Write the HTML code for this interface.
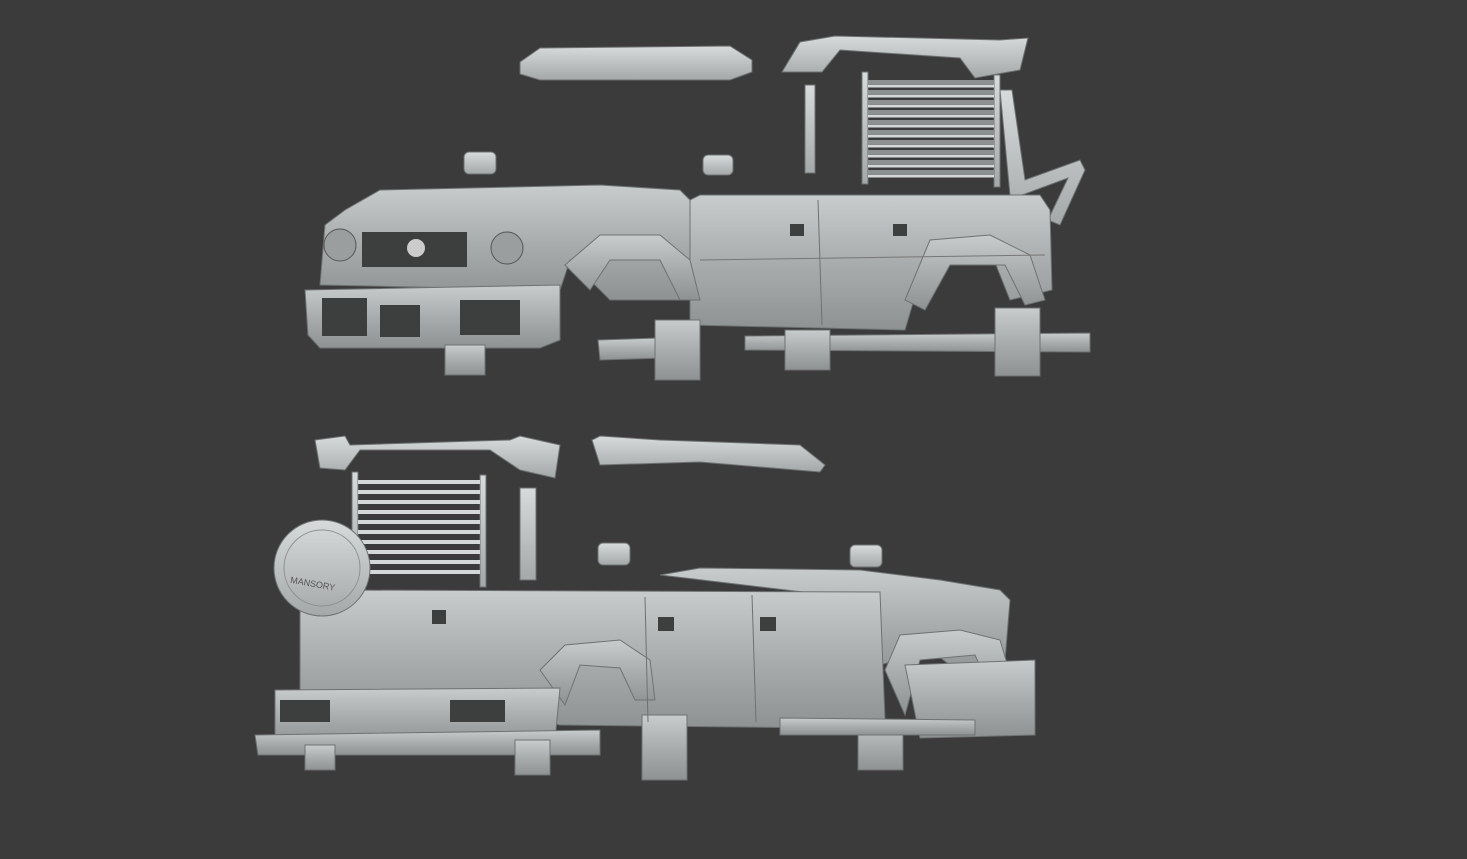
<!DOCTYPE html>
<html><head><meta charset="utf-8"><style>
html,body{margin:0;padding:0;background:#3b3b3b;}
svg{display:block}
</style></head><body>
<svg width="1467" height="859" viewBox="0 0 1467 859" xmlns="http://www.w3.org/2000/svg">
<defs>
<linearGradient id="b" x1="0" y1="0" x2="0" y2="1">
<stop offset="0" stop-color="#c9cccc"/><stop offset="0.5" stop-color="#a9adad"/><stop offset="1" stop-color="#8e9292"/>
</linearGradient>
<linearGradient id="l" x1="0" y1="0" x2="0" y2="1">
<stop offset="0" stop-color="#d8dbdb"/><stop offset="1" stop-color="#a4a8a8"/>
</linearGradient>
</defs>
<rect width="1467" height="859" fill="#3b3b3b"/>

<!-- TOP CAR -->
<g fill="url(#l)" stroke="#6e7272" stroke-width="1">
<!-- light bar -->
<path d="M520 62 L540 48 L730 46 L752 60 L752 72 L730 80 L540 80 L520 74Z"/>
<!-- spoiler -->
<path d="M782 72 L800 42 L835 36 L1000 40 L1028 38 L1020 70 L975 78 L960 58 L840 50 L822 72Z"/>
<!-- ladder frame -->
<rect x="862" y="72" width="6" height="112"/>
<rect x="994" y="75" width="6" height="112"/>
<rect x="805" y="85" width="10" height="88"/>
<!-- tube -->
<path d="M1000 90 L1012 90 L1025 180 L1080 160 L1085 170 L1060 225 L1048 220 L1068 178 L1022 195 L1010 195Z"/>
<!-- mirrors -->
<rect x="464" y="152" width="32" height="22" rx="5"/>
<rect x="703" y="155" width="30" height="20" rx="5"/>
</g>
<g stroke="#8c9090" stroke-width="4">
<line x1="868" y1="82" x2="994" y2="82"/><line x1="868" y1="92" x2="994" y2="92"/><line x1="868" y1="102" x2="994" y2="102"/><line x1="868" y1="112" x2="994" y2="112"/><line x1="868" y1="122" x2="994" y2="122"/><line x1="868" y1="132" x2="994" y2="132"/><line x1="868" y1="142" x2="994" y2="142"/><line x1="868" y1="152" x2="994" y2="152"/><line x1="868" y1="162" x2="994" y2="162"/><line x1="868" y1="172" x2="994" y2="172"/>
</g>
<g stroke="#d5d8d8" stroke-width="3">
<line x1="868" y1="86" x2="994" y2="86"/><line x1="868" y1="96" x2="994" y2="96"/><line x1="868" y1="106" x2="994" y2="106"/><line x1="868" y1="116" x2="994" y2="116"/><line x1="868" y1="126" x2="994" y2="126"/><line x1="868" y1="136" x2="994" y2="136"/><line x1="868" y1="146" x2="994" y2="146"/><line x1="868" y1="156" x2="994" y2="156"/><line x1="868" y1="166" x2="994" y2="166"/><line x1="868" y1="176" x2="994" y2="176"/>
</g>
<g fill="url(#b)" stroke="#6e7272" stroke-width="1">
<!-- hood/front -->
<path d="M325 225 L345 210 L380 190 L600 185 L680 190 L690 200 L690 300 L610 300 L570 260 L560 290 L320 285Z"/>
<!-- side body -->
<path d="M690 200 L700 195 L1040 195 L1050 210 L1052 290 L1010 300 L990 250 L930 245 L905 330 L690 325Z"/>
<!-- bumper -->
<path d="M305 290 L560 285 L560 340 L540 348 L320 348 L308 335Z"/>
<!-- arches -->
<path d="M565 265 L600 235 L660 235 L690 260 L700 300 L680 300 L660 260 L610 260 L590 290Z"/>
<path d="M905 300 L930 240 L990 235 L1030 255 L1045 300 L1025 305 L1005 265 L950 265 L925 310Z"/>
<!-- steps -->
<path d="M745 336 L1090 333 L1090 352 L745 350Z"/>
<path d="M598 340 L660 338 L665 358 L600 360Z"/>
<!-- flaps -->
<rect x="445" y="345" width="40" height="30"/>
<rect x="655" y="320" width="45" height="60"/>
<rect x="785" y="330" width="45" height="40"/>
<rect x="995" y="308" width="45" height="68"/>
</g>
<g fill="#3d3f3f">
<rect x="362" y="232" width="105" height="35"/>
<rect x="322" y="298" width="45" height="38"/>
<rect x="380" y="305" width="40" height="32"/>
<rect x="460" y="300" width="60" height="35"/>
<rect x="790" y="224" width="14" height="12"/>
<rect x="893" y="224" width="14" height="12"/>
</g>
<circle cx="340" cy="245" r="16" fill="#9a9e9e" stroke="#555"/>
<circle cx="507" cy="248" r="16" fill="#9a9e9e" stroke="#555"/>
<circle cx="416" cy="248" r="9" fill="#ccc"/>
<line x1="818" y1="200" x2="822" y2="325" stroke="#6e7272"/>
<line x1="700" y1="260" x2="1045" y2="255" stroke="#777"/>

<!-- BOTTOM CAR -->
<g fill="url(#l)" stroke="#6e7272" stroke-width="1">
<path d="M315 440 L345 436 L350 445 L510 440 L520 436 L560 445 L555 478 L520 470 L490 450 L360 450 L345 470 L320 468Z"/>
<path d="M592 440 L600 436 L660 440 L800 445 L825 465 L820 472 L700 462 L600 465Z"/>
<rect x="352" y="472" width="6" height="112"/>
<rect x="480" y="475" width="6" height="112"/>
<rect x="520" y="488" width="16" height="92"/>
<rect x="598" y="543" width="32" height="22" rx="5"/>
<rect x="850" y="545" width="32" height="22" rx="5"/>
</g>
<g stroke="#d5d8d8" stroke-width="4">
<line x1="358" y1="482" x2="480" y2="482"/><line x1="358" y1="492" x2="480" y2="492"/><line x1="358" y1="502" x2="480" y2="502"/><line x1="358" y1="512" x2="480" y2="512"/><line x1="358" y1="522" x2="480" y2="522"/><line x1="358" y1="532" x2="480" y2="532"/><line x1="358" y1="542" x2="480" y2="542"/><line x1="358" y1="552" x2="480" y2="552"/><line x1="358" y1="562" x2="480" y2="562"/><line x1="358" y1="572" x2="480" y2="572"/>
</g>
<g fill="url(#b)" stroke="#6e7272" stroke-width="1">
<path d="M660 575 L700 568 L860 570 L940 580 L1000 590 L1010 600 L1005 660 L970 680 L930 650 L880 665 L870 600Z"/>
<path d="M300 598 L330 590 L880 592 L885 720 L830 728 L560 725 L540 720 L300 715Z"/>
<path d="M540 670 L565 645 L620 640 L650 660 L655 700 L635 700 L620 668 L580 665 L565 705Z"/>
<path d="M885 670 L900 635 L960 630 L1000 640 L1015 690 L995 700 L975 655 L920 660 L905 715Z"/>
<path d="M275 690 L560 688 L555 740 L275 745Z"/>
<path d="M255 735 L600 730 L600 755 L258 755Z"/>
<path d="M905 665 L1035 660 L1035 735 L920 738Z"/>
<rect x="305" y="745" width="30" height="25"/>
<rect x="515" y="740" width="35" height="35"/>
<rect x="642" y="715" width="45" height="65"/>
<rect x="858" y="720" width="45" height="50"/>
<path d="M780 718 L975 720 L975 735 L780 735Z"/>
</g>
<circle cx="322" cy="568" r="48" fill="url(#l)" stroke="#6e7272"/>
<circle cx="322" cy="568" r="38" fill="none" stroke="#8c9090"/>
<text x="290" y="588" font-family="Liberation Sans, sans-serif" font-size="9" fill="#555" transform="rotate(10 320 585)">MANSORY</text>
<g fill="#3d3f3f">
<rect x="280" y="700" width="50" height="22"/>
<rect x="450" y="700" width="55" height="22"/>
<rect x="432" y="610" width="14" height="14"/>
<rect x="658" y="617" width="16" height="14"/>
<rect x="760" y="617" width="16" height="14"/>
</g>
<line x1="752" y1="595" x2="756" y2="722" stroke="#6e7272"/>
<line x1="645" y1="597" x2="648" y2="722" stroke="#6e7272"/>
</svg>
</body></html>
